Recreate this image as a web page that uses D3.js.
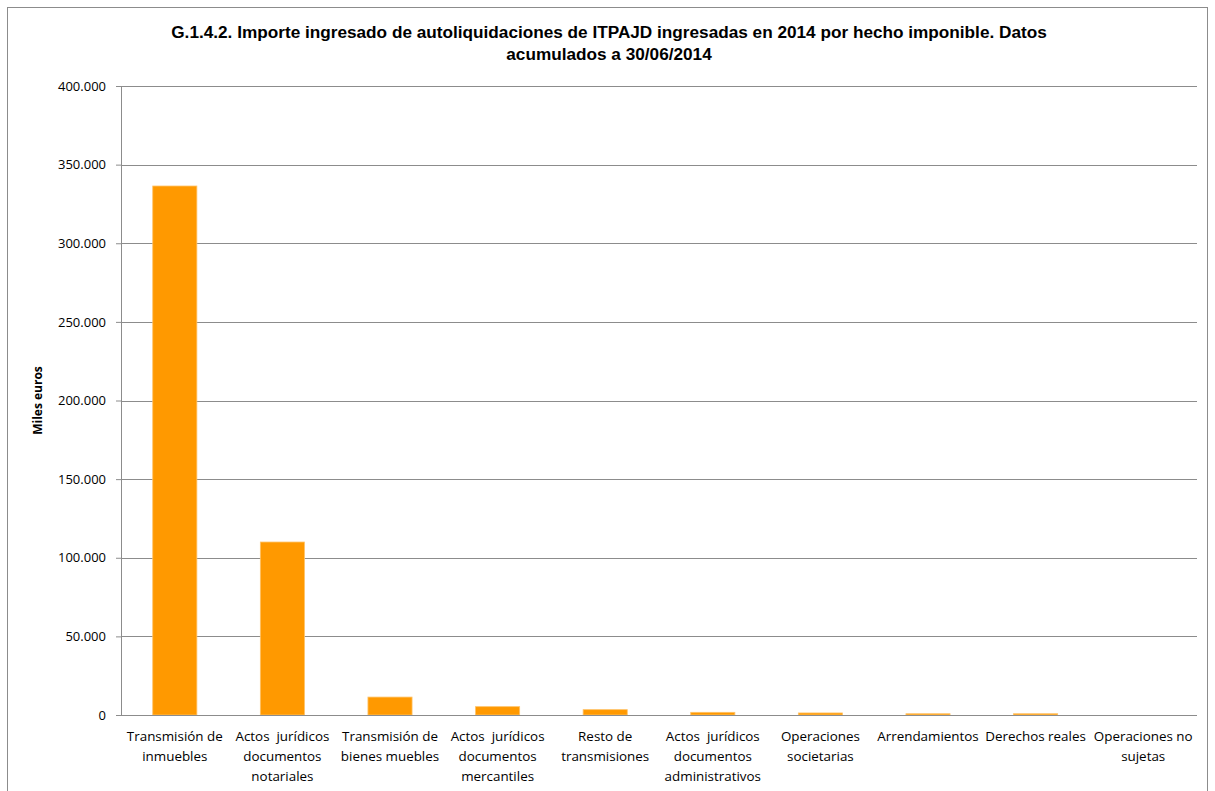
<!DOCTYPE html>
<html>
<head>
<meta charset="utf-8">
<script src="https://cdn.jsdelivr.net/npm/d3@7"></script>
<style>
  body { margin: 0; background: #fff; }
  svg { display: block; }
</style>
</head>
<body>
<div id="chart"></div>
<script>
// data (miles de euros)
const categories = [
  ['Transmisión de', 'inmuebles'],
  ['Actos  jurídicos', 'documentos', 'notariales'],
  ['Transmisión de', 'bienes muebles'],
  ['Actos  jurídicos', 'documentos', 'mercantiles'],
  ['Resto de', 'transmisiones'],
  ['Actos  jurídicos', 'documentos', 'administrativos'],
  ['Operaciones', 'societarias'],
  ['Arrendamientos'],
  ['Derechos reales'],
  ['Operaciones no', 'sujetas']
];
const values = [336400, 110000, 11400, 5300, 3400, 1700, 1300, 800, 800, 0];
const yTicks = [0, 50000, 100000, 150000, 200000, 250000, 300000, 350000, 400000];
const titleLines = [
  'G.1.4.2. Importe ingresado de autoliquidaciones de ITPAJD ingresadas en 2014 por hecho imponible. Datos',
  'acumulados a 30/06/2014'
];
const yLabel = 'Miles euros';

const width = 1215, height = 791;
const margin = { top: 86, right: 18, bottom: 76, left: 121 };
const innerW = width - margin.left - margin.right;
const innerH = height - margin.top - margin.bottom;

const svg = d3.select('#chart').append('svg')
  .attr('width', width)
  .attr('height', height);

// chart frame
svg.append('rect')
  .attr('x', 7.5).attr('y', 7.5)
  .attr('width', 1200).attr('height', 800)
  .attr('fill', 'none')
  .attr('stroke', '#8c8c8c')
  .attr('stroke-width', 1);

// title
svg.append('text')
  .attr('text-anchor', 'middle')
  .attr('font-family', '"Liberation Sans Narrow", "Liberation Sans", sans-serif')
  .attr('font-weight', 'bold')
  .attr('font-size', 17.2)
  .attr('fill', '#000')
  .selectAll('tspan')
  .data(titleLines)
  .join('tspan')
  .attr('x', 609)
  .attr('y', (d, i) => 38 + i * 22)
  .text(d => d);

const g = svg.append('g').attr('transform', `translate(${margin.left},${margin.top})`);

const x = d3.scaleBand()
  .domain(d3.range(categories.length))
  .range([0, innerW])
  .paddingInner(0.59)
  .paddingOuter(0.295);

const y = d3.scaleLinear().domain([0, 400000]).range([innerH, 0]);

// gridlines
g.append('g')
  .selectAll('line')
  .data(yTicks.filter(d => d > 0))
  .join('line')
  .attr('x1', 0).attr('x2', innerW)
  .attr('y1', d => Math.round(y(d)) + 0.5)
  .attr('y2', d => Math.round(y(d)) + 0.5)
  .attr('stroke', '#8c8c8c');

// y axis
const fmt = d => d3.format(',')(d).replace(/,/g, '.');
const yAxis = g.append('g')
  .call(d3.axisLeft(y).tickValues(yTicks).tickFormat(fmt).tickSize(5).tickPadding(10));
yAxis.select('.domain').attr('stroke', '#8c8c8c');
yAxis.selectAll('line').attr('stroke', '#8c8c8c');
yAxis.selectAll('text')
  .attr('font-family', '"Open Sans", "Liberation Sans", sans-serif')
  .attr('font-size', 13)
  .attr('fill', '#000');

// bars
g.append('g')
  .selectAll('rect')
  .data(values)
  .join('rect')
  .attr('x', (d, i) => x(i))
  .attr('y', d => y(d))
  .attr('width', x.bandwidth())
  .attr('height', d => innerH - y(d))
  .attr('fill', '#ff9900')
  .attr('stroke', '#ffc266')
  .attr('stroke-width', 0.8);

// x axis baseline
g.append('line')
  .attr('x1', 0).attr('x2', innerW)
  .attr('y1', innerH + 0.5).attr('y2', innerH + 0.5)
  .attr('stroke', '#8c8c8c');

// x labels
g.append('g')
  .selectAll('text')
  .data(categories)
  .join('text')
  .attr('text-anchor', 'middle')
  .attr('font-family', '"Open Sans", "Liberation Sans", sans-serif')
  .attr('font-size', 13.4)
  .attr('fill', '#000')
  .each(function (lines, i) {
    d3.select(this).selectAll('tspan')
      .data(lines)
      .join('tspan')
      .attr('x', x(i) + x.bandwidth() / 2)
      .attr('y', (d, k) => innerH + 26 + k * 20)
      .attr('xml:space', 'preserve')
      .text(d => d);
  });

// y label
svg.append('text')
  .attr('transform', `translate(42,${margin.top + innerH / 2}) rotate(-90)`)
  .attr('text-anchor', 'middle')
  .attr('font-family', '"Open Sans", "Liberation Sans", sans-serif')
  .attr('font-weight', 'bold')
  .attr('font-size', 12)
  .attr('fill', '#000')
  .text(yLabel);
</script>
</body>
</html>
